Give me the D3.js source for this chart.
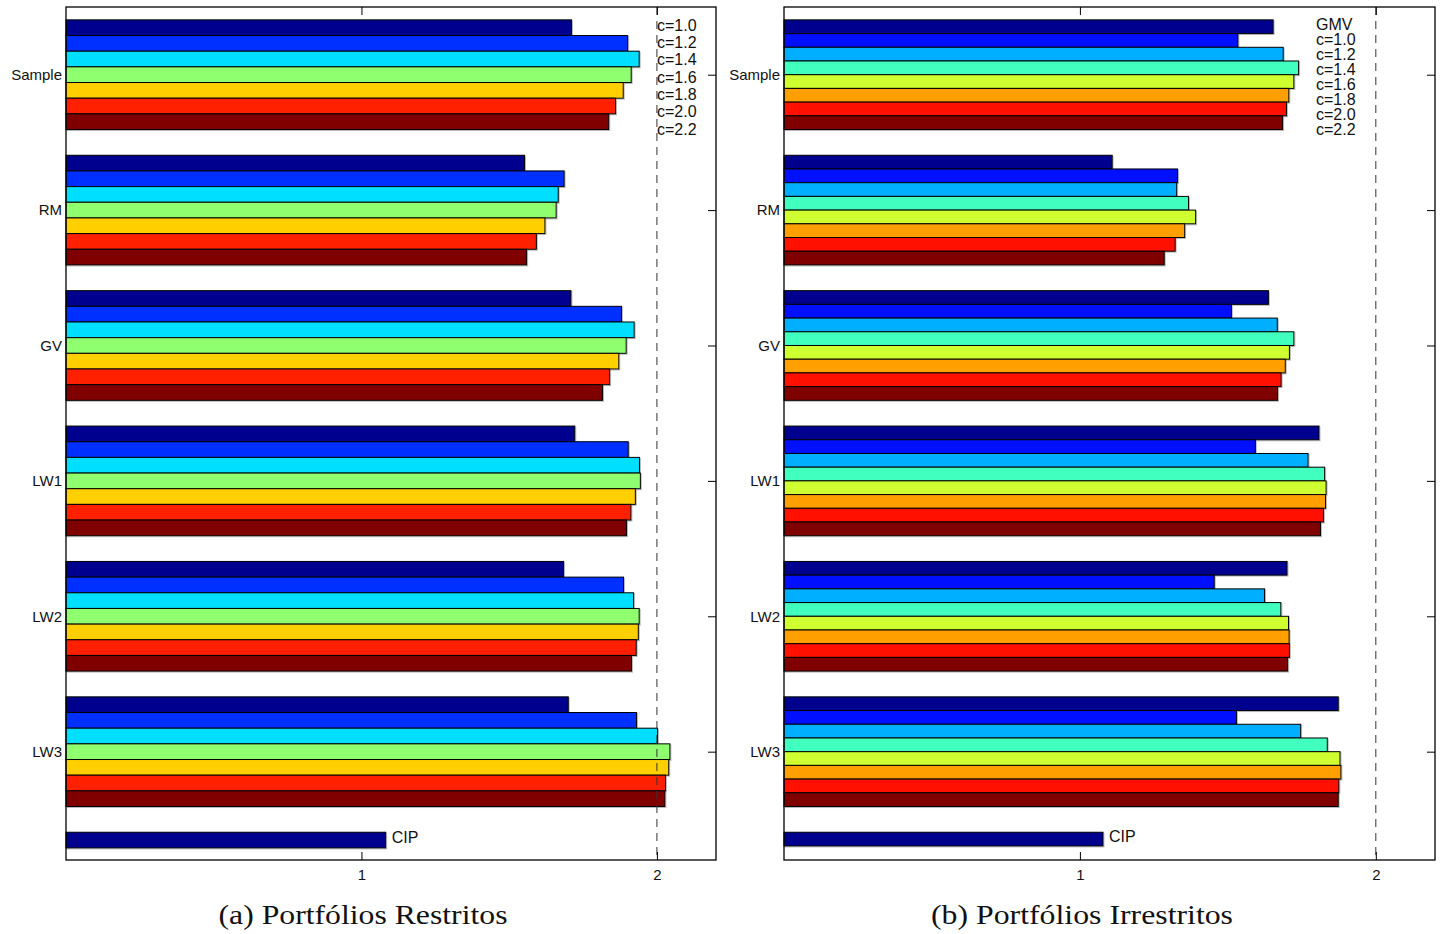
<!DOCTYPE html>
<html>
<head>
<meta charset="utf-8">
<script src="https://cdn.jsdelivr.net/npm/d3@7"></script>
<style>
body { margin: 0; background: #fff; }
svg { display: block; font-family: "Liberation Sans", Arial, sans-serif; }
</style>
</head>
<body>
<svg id="chart" width="1445" height="934"></svg>
<script>
"use strict";

const groups = ["Sample", "RM", "GV", "LW1", "LW2", "LW3"];
const xTicks = [1, 2];

// (a) Portfólios Restritos, one array per c, values for Sample, RM, GV, LW1, LW2, LW3
const seriesA = ["c=1.0", "c=1.2", "c=1.4", "c=1.6", "c=1.8", "c=2.0", "c=2.2"];
const resC10 = [1.711, 1.552, 1.709, 1.722, 1.684, 1.700];
const resC12 = [1.901, 1.686, 1.880, 1.903, 1.887, 1.931];
const resC14 = [1.940, 1.666, 1.923, 1.941, 1.921, 2.002];
const resC16 = [1.913, 1.659, 1.896, 1.944, 1.940, 2.044];
const resC18 = [1.886, 1.621, 1.871, 1.927, 1.937, 2.040];
const resC20 = [1.860, 1.592, 1.840, 1.912, 1.930, 2.029];
const resC22 = [1.837, 1.559, 1.816, 1.897, 1.914, 2.027];
const resCIP = 1.082;
const colorsA = ["#00008f", "#0030ff", "#00dfff", "#8fff70", "#ffcf00", "#ff2000", "#800000"];

// (b) Portfólios Irrestritos
const seriesB = ["GMV", "c=1.0", "c=1.2", "c=1.4", "c=1.6", "c=1.8", "c=2.0", "c=2.2"];
const irrGMV = [1.653, 1.109, 1.637, 1.808, 1.700, 1.873];
const irrC10 = [1.534, 1.330, 1.512, 1.593, 1.454, 1.529];
const irrC12 = [1.687, 1.327, 1.667, 1.771, 1.624, 1.746];
const irrC14 = [1.739, 1.367, 1.723, 1.827, 1.679, 1.836];
const irrC16 = [1.723, 1.391, 1.708, 1.832, 1.705, 1.879];
const irrC18 = [1.706, 1.354, 1.694, 1.830, 1.707, 1.882];
const irrC20 = [1.698, 1.322, 1.680, 1.823, 1.708, 1.875];
const irrC22 = [1.685, 1.285, 1.668, 1.813, 1.702, 1.873];
const irrCIP = 1.078;
const colorsB = ["#00008f", "#0010ff", "#00afff", "#40ffbf", "#cfff30", "#ffa000", "#ff1000", "#800000"];

var svg = d3.select("#chart");
var sans = "'Liberation Sans', Arial, sans-serif";

function drawPanel(cfg) {
    var x = d3.scaleLinear().domain([0, 2.2]).range([cfg.left, cfg.right]);
    var y = d3.scaleLinear().domain([0.5, 6.8]).range([7, 860]);
    var n = cfg.values.length,
        unit = y(2) - y(1),
        groupW = 0.81 * unit,
        barH = groupW / n;
    var g = svg.append("g");

    // left ticks sit under the bars
    g.append("g")
        .attr("transform", "translate(" + cfg.left + ",0)")
        .call(d3.axisLeft(y).tickValues([1, 2, 3, 4, 5, 6])
            .tickFormat(function (d) { return groups[d - 1]; })
            .tickSizeInner(-8).tickSizeOuter(0).tickPadding(4))
        .attr("font-family", sans)
        .attr("font-size", 15)
        .call(function (a) {
            a.select(".domain").remove();
            a.selectAll("text").attr("fill", "#111");
        });

    var rows = [];
    for (let j = 0; j < n; j++) {
        for (let i = 0; i < groups.length; i++) {
            rows.push({s: j, grp: i + 1, v: cfg.values[j][i]});
        }
    }
    rows.push({s: 0, grp: 7, v: cfg.cip});

    // faint shadow like the original export
    g.selectAll("rect.shadow").data(rows).enter().append("rect")
        .attr("class", "shadow")
        .attr("x", x(0) + 1)
        .attr("y", function (d) { return y(d.grp) - groupW / 2 + d.s * barH + 1; })
        .attr("width", function (d) { return x(d.v) - x(0); })
        .attr("height", barH)
        .attr("fill", "none")
        .attr("stroke", "#bbb")
        .attr("stroke-width", 1);

    g.selectAll("rect.bar").data(rows).enter().append("rect")
        .attr("class", "bar")
        .attr("x", x(0))
        .attr("y", function (d) { return y(d.grp) - groupW / 2 + d.s * barH; })
        .attr("width", function (d) { return x(d.v) - x(0); })
        .attr("height", barH)
        .attr("fill", function (d) { return cfg.colors[d.s]; })
        .attr("stroke", "#000")
        .attr("stroke-width", 1);

    g.append("text")
        .attr("x", x(cfg.cip) + 6)
        .attr("y", y(7) - groupW / 2 + barH / 2 - 3)
        .attr("dominant-baseline", "central")
        .attr("font-size", 16)
        .attr("fill", "#111")
        .text("CIP");

    // dashed reference line at 2
    g.append("line")
        .attr("x1", x(2)).attr("x2", x(2))
        .attr("y1", 7).attr("y2", 860)
        .attr("stroke", "#333")
        .attr("stroke-width", 1)
        .attr("stroke-dasharray", "8,6");

    // right, top and bottom ticks
    g.append("g")
        .attr("transform", "translate(" + cfg.right + ",0)")
        .call(d3.axisRight(y).tickValues([1, 2, 3, 4, 5, 6]).tickFormat("").tickSizeInner(-8).tickSizeOuter(0))
        .call(function (a) { a.select(".domain").remove(); });
    g.append("g")
        .attr("transform", "translate(0,7)")
        .call(d3.axisTop(x).tickValues(xTicks).tickFormat("").tickSizeInner(-8).tickSizeOuter(0))
        .call(function (a) { a.select(".domain").remove(); });
    g.append("g")
        .attr("transform", "translate(0,860)")
        .call(d3.axisBottom(x).tickValues(xTicks).tickFormat(d3.format("d")).tickSizeInner(-8).tickSizeOuter(0).tickPadding(9))
        .attr("font-family", sans)
        .attr("font-size", 15)
        .call(function (a) {
            a.select(".domain").remove();
            a.selectAll("text").attr("fill", "#111");
        });

    g.append("rect")
        .attr("x", cfg.left).attr("y", 7)
        .attr("width", cfg.right - cfg.left).attr("height", 853)
        .attr("fill", "none")
        .attr("stroke", "#000")
        .attr("stroke-width", 1.3);

    g.selectAll("text.leg").data(cfg.series).enter().append("text")
        .attr("class", "leg")
        .attr("x", cfg.legX)
        .attr("y", function (d, i) { return cfg.legY + i * cfg.legStep; })
        .attr("dominant-baseline", "central")
        .attr("font-size", 16)
        .attr("fill", "#111")
        .text(function (d) { return d; });

    svg.append("text")
        .attr("x", cfg.capX)
        .attr("y", 924)
        .attr("text-anchor", "middle")
        .attr("font-family", "'Liberation Serif', 'DejaVu Serif', serif")
        .attr("font-size", 27)
        .attr("fill", "#111")
        .attr("textLength", cfg.capW)
        .attr("lengthAdjust", "spacingAndGlyphs")
        .text(cfg.caption);
}

drawPanel({
    left: 66, right: 716,
    values: [resC10, resC12, resC14, resC16, resC18, resC20, resC22],
    colors: colorsA, series: seriesA, cip: resCIP,
    legX: 657, legY: 25, legStep: 17.35,
    capX: 363, capW: 289, caption: "(a) Portfólios Restritos"
});

drawPanel({
    left: 784, right: 1435,
    values: [irrGMV, irrC10, irrC12, irrC14, irrC16, irrC18, irrC20, irrC22],
    colors: colorsB, series: seriesB, cip: irrCIP,
    legX: 1316, legY: 24, legStep: 15.14,
    capX: 1082, capW: 302, caption: "(b) Portfólios Irrestritos"
});
</script>
</body>
</html>
